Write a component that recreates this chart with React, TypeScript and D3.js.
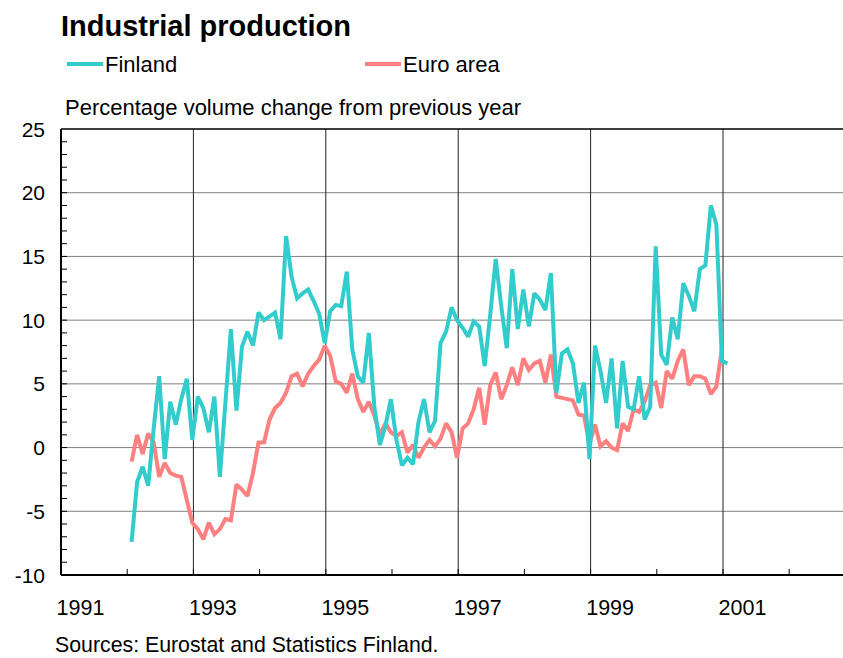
import React, { useEffect, useRef } from 'react';
import * as d3 from 'd3';

// monthly, starting January 1992
const startYear = 1992;
const finland = [
  -7.4, -2.7, -1.5, -3.0, 1.5, 5.6, -0.9, 3.6, 1.8, 3.8, 5.4, 0.6,
  4.0, 3.1, 1.2, 4.0, -2.3, 3.5, 9.3, 2.9, 7.9, 9.1, 8.0, 10.6,
  10.0, 10.3, 10.6, 8.5, 16.6, 13.4, 11.7, 12.1, 12.4, 11.5, 10.5, 8.2,
  10.7, 11.2, 11.1, 13.8, 7.7, 5.6, 5.1, 9.0, 3.2, 0.2, 1.7, 3.8,
  0.6, -1.4, -0.8, -1.3, 2.0, 3.8, 1.2, 2.1, 8.2, 9.1, 11.0, 10.0,
  9.4, 8.7, 9.9, 9.5, 6.4, 10.4, 14.8, 11.1, 7.8, 14.0, 9.3, 12.4,
  9.5, 12.1, 11.6, 10.8, 13.7, 4.3, 7.4, 7.7, 6.6, 3.5, 5.1, -0.9,
  8.0, 6.0, 3.5, 7.0, 1.5, 6.8, 3.2, 3.0, 5.6, 2.2, 3.2, 15.8,
  7.3, 6.5, 10.2, 8.5, 12.9, 11.9, 10.7, 14.0, 14.3, 19.0, 17.5, 6.8,
  6.6
];
const euroArea = [
  -1.1, 1.0, -0.5, 1.1, 0.4, -2.3, -1.2, -2.0, -2.2, -2.3, -4.1, -5.9,
  -6.4, -7.2, -5.9, -6.8, -6.4, -5.6, -5.7, -2.9, -3.3, -3.8, -2.0, 0.4,
  0.4, 2.2, 3.1, 3.5, 4.3, 5.6, 5.8, 4.8, 5.8, 6.4, 6.9, 8.0,
  7.2, 5.2, 5.0, 4.3, 5.8, 3.8, 2.8, 3.6, 2.5, 1.0, 1.9, 1.2,
  0.9, 1.2, -0.4, 0.2, -0.8, 0.0, 0.6, 0.1, 0.7, 1.9, 1.2, -0.8,
  1.5, 1.9, 3.0, 4.7, 1.8, 4.9, 5.9, 3.8, 4.9, 6.3, 4.9, 7.0,
  6.1, 6.6, 6.8, 5.1, 7.3, 4.0, 3.9, 3.8, 3.7, 2.6, 2.5, 0.3,
  1.8, 0.1, 0.5, 0.0, -0.2, 1.9, 1.3, 3.0, 2.8, 3.6, 4.9, 5.1,
  3.1, 6.0, 5.4, 6.8, 7.7, 4.9, 5.6, 5.6, 5.4, 4.2, 4.8, 7.7
];
const yearLabels = ['1991', '1993', '1995', '1997', '1999', '2001'];
const yTicks = [-10, -5, 0, 5, 10, 15, 20, 25];

const FINLAND_COLOR = '#33cccc';
const EURO_COLOR = '#ff8080';

const App: React.FC = () => {
  const svgRef = useRef<SVGSVGElement>(null);

  useEffect(() => {
    if (!svgRef.current) return;

    const width = 843;
    const height = 658;
    const font = 'Arial, "Liberation Sans", sans-serif';

    const svg = d3.select(svgRef.current);
    svg.selectAll('*').remove();
    svg.attr('width', width).attr('height', height).style('font-family', font);

    const x = d3.scaleLinear().domain([1991, 2003]).range([61, 855.4]);
    const y = d3.scaleLinear().domain([-10, 25]).range([575, 129]);

    // month index -> fractional year (points sit near the end of the month)
    const t = (i: number) => startYear + (i + 0.8) / 12;

    /* grid */
    const grid = svg.append('g');
    grid.selectAll('line.h')
      .data(yTicks.filter(v => v > -10 && v < 25))
      .join('line')
      .attr('x1', x(1991)).attr('x2', width)
      .attr('y1', d => y(d)).attr('y2', d => y(d))
      .attr('stroke', '#808080').attr('stroke-width', 1);

    grid.selectAll('line.v')
      .data(d3.range(1993, 2003, 2))
      .join('line')
      .attr('x1', d => x(d)).attr('x2', d => x(d))
      .attr('y1', y(25)).attr('y2', y(-10))
      .attr('stroke', '#222').attr('stroke-width', 1);

    grid.append('line')
      .attr('x1', x(1991)).attr('x2', width)
      .attr('y1', y(25)).attr('y2', y(25))
      .attr('stroke', '#000').attr('stroke-width', 1.5);

    /* axes */
    const axes = svg.append('g').attr('stroke', '#000');
    axes.append('line')
      .attr('x1', x(1991)).attr('x2', x(1991))
      .attr('y1', y(25)).attr('y2', y(-10))
      .attr('stroke-width', 2);
    axes.append('line')
      .attr('x1', x(1991)).attr('x2', width)
      .attr('y1', y(-10)).attr('y2', y(-10))
      .attr('stroke-width', 2);

    axes.selectAll('line.yt')
      .data(d3.range(-9, 25))
      .join('line')
      .attr('x1', x(1991)).attr('x2', x(1991) + 6)
      .attr('y1', d => y(d)).attr('y2', d => y(d))
      .attr('stroke-width', 1);

    axes.selectAll('line.xt')
      .data(d3.range(1992, 2003))
      .join('line')
      .attr('x1', d => x(d)).attr('x2', d => x(d))
      .attr('y1', y(-10)).attr('y2', y(-10) - 6)
      .attr('stroke-width', 1);

    svg.append('g')
      .selectAll('text')
      .data(yTicks)
      .join('text')
      .attr('x', 45)
      .attr('y', d => y(d))
      .attr('dy', '0.36em')
      .attr('text-anchor', 'end')
      .style('font-size', '21px')
      .text(d => d);

    svg.append('g')
      .selectAll('text')
      .data(yearLabels)
      .join('text')
      .attr('x', d => x(+d) + 19.5)
      .attr('y', 615)
      .attr('text-anchor', 'middle')
      .style('font-size', '21.5px')
      .text(d => d);

    /* series */
    const line = d3.line<number>()
      .x((_, i) => x(t(i)))
      .y(d => y(d));

    svg.append('path')
      .datum(euroArea)
      .attr('d', line)
      .attr('fill', 'none')
      .attr('stroke', EURO_COLOR)
      .attr('stroke-width', 4)
      .attr('stroke-linejoin', 'miter')
      .attr('stroke-miterlimit', 2);

    svg.append('path')
      .datum(finland)
      .attr('d', line)
      .attr('fill', 'none')
      .attr('stroke', FINLAND_COLOR)
      .attr('stroke-width', 4)
      .attr('stroke-linejoin', 'miter')
      .attr('stroke-miterlimit', 2);

    /* titles and legend */
    svg.append('text')
      .attr('x', 61).attr('y', 36)
      .style('font-size', '29px').style('font-weight', 'bold')
      .text('Industrial production');

    const legend = [
      { name: 'Finland', color: FINLAND_COLOR, x0: 67 },
      { name: 'Euro area', color: EURO_COLOR, x0: 365 }
    ];
    const lg = svg.append('g').selectAll('g').data(legend).join('g');
    lg.append('line')
      .attr('x1', d => d.x0).attr('x2', d => d.x0 + 36)
      .attr('y1', 64).attr('y2', 64)
      .attr('stroke', d => d.color).attr('stroke-width', 4);
    lg.append('text')
      .attr('x', d => d.x0 + 38).attr('y', 72)
      .style('font-size', '22px')
      .text(d => d.name);

    svg.append('text')
      .attr('x', 65).attr('y', 115)
      .style('font-size', '22px')
      .text('Percentage volume change from previous year');

    svg.append('text')
      .attr('x', 55).attr('y', 652)
      .style('font-size', '21.3px')
      .text('Sources: Eurostat and Statistics Finland.');
  }, []);

  return (
    <svg
      ref={svgRef}
      style={{ position: 'absolute', left: 0, top: 0, background: '#ffffff' }}
    />
  );
};

export default App;
